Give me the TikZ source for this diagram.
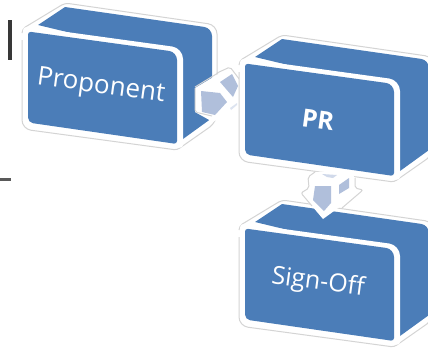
\documentclass[tikz,border=0pt]{standalone}
\usepackage{fontspec}
\setmainfont{Open Sans}
\definecolor{boxblue}{HTML}{4B7DB8}
\definecolor{arrowblue}{HTML}{B0BFDB}
\definecolor{paleblue}{HTML}{DDE4F0}
\definecolor{edgegray}{HTML}{D4D4D4}
\tikzset{
  halo/.style={fill=white,draw=edgegray,line width=1pt},
  bluepart/.style={fill=boxblue},
  frontband/.style={fill=white},
  frontface/.style={fill=boxblue},
  boxlabel/.style={text=white,rotate=-7.7,inner sep=0pt,font=\fontsize{26}{30}\selectfont},
  arrowhalo/.style={fill=white},
  arrowedge/.style={draw=edgegray,line width=1pt,rounded corners=2pt},
  arrowpart/.style={fill=arrowblue},
  arrowpale/.style={fill=paleblue}
}
\newcommand{\cuboid}[2]{%
  \begin{scope}[shift={(#1,#2)}]
    \path[halo] (22,33) [rounded corners=4pt] -- (22,29) -- (65,3) [rounded corners=9pt] -- (217,25) -- (217,122) [rounded corners=3pt] -- (177,150) [rounded corners=9pt] -- (22,129) -- (22,40);
    \path[bluepart] (38,25) -- (65,7) [rounded corners=8pt] -- (212,28) [sharp corners] -- (212,118) -- (183,139) -- (183,60) -- cycle;
    \path[frontband] (23,32) [rounded corners=5pt] -- (23,26) [rounded corners=11pt] -- (183,48) [rounded corners=3pt] -- (183,148) [rounded corners=9pt] -- (23,127) -- cycle;
    \path[frontface] (28,40) [rounded corners=3pt] -- (28,31.5) [rounded corners=8pt] -- (177,52) [rounded corners=3pt] -- (177,144) [rounded corners=5pt] -- (28,122.5) -- cycle;
  \end{scope}}
\begin{document}
\begin{tikzpicture}[x=1pt,y=-1pt]
\useasboundingbox (0,0) rectangle (428,349);
\fill[white] (0,0) rectangle (428,349);
% marks at the left edge
\fill[black!78] (8,20) rectangle (12,60);
\fill[black!65] (0,178) rectangle (11,180.5);
% box 1
\cuboid{0}{0}
\node[boxlabel] (proponent) at (101,87) {Proponent};
% arrow 1
\path[arrowhalo] (195,88) -- (230,67) -- (240,80) -- (240,106) -- (213,122) -- (195,112) -- cycle;
\draw[arrowedge] (217,73) -- (230,67) -- (240,80);
\draw[arrowedge] (195,88) -- (195,112) -- (212,116);
\draw[arrowedge] (218,73) -- (195,87);
\fill[arrowpart] (201,91) -- (220,93) -- (227,102) -- (215,115) -- (202,112) -- cycle;
\fill[arrowpart] (220,82) -- (232,74) -- (238,86) -- (233,97) -- cycle;
\fill[arrowpale] (230,108) -- (237,103) -- (237,105) -- (231,110) -- cycle;
% box 2
\cuboid{217}{32}
\node[boxlabel,font=\fontsize{25}{30}\selectfont\bfseries] (pr) at (318,120) {PR};
% box 3
\cuboid{217}{197}
\node[boxlabel,font=\fontsize{25}{30}\selectfont] (signoff) at (318,283) {Sign-Off};
% arrow 2
\path[arrowhalo] (315,172) -- (308,177) -- (309,188) -- (301,193) -- (323,219) -- (363,190) -- (355,188) -- (355,178) -- (350,170) -- cycle;
\draw[arrowedge] (315,172) -- (308,177) -- (309,188) -- (301,193) -- (312,206);
\draw[arrowedge] (355,178) -- (355,188) -- (363,190) -- (342,208);
\fill[arrowpart] (315,186) -- (331,186) -- (331,203) -- (324,211) -- (313,200) -- cycle;
\fill[arrowpart] (339,185) -- (349,178) -- (349,188) -- (339,194) -- cycle;
\fill[paleblue!70!arrowblue] (322,174) -- (337,175) -- (333,178) -- (327,177) -- cycle;
\end{tikzpicture}
\end{document}
